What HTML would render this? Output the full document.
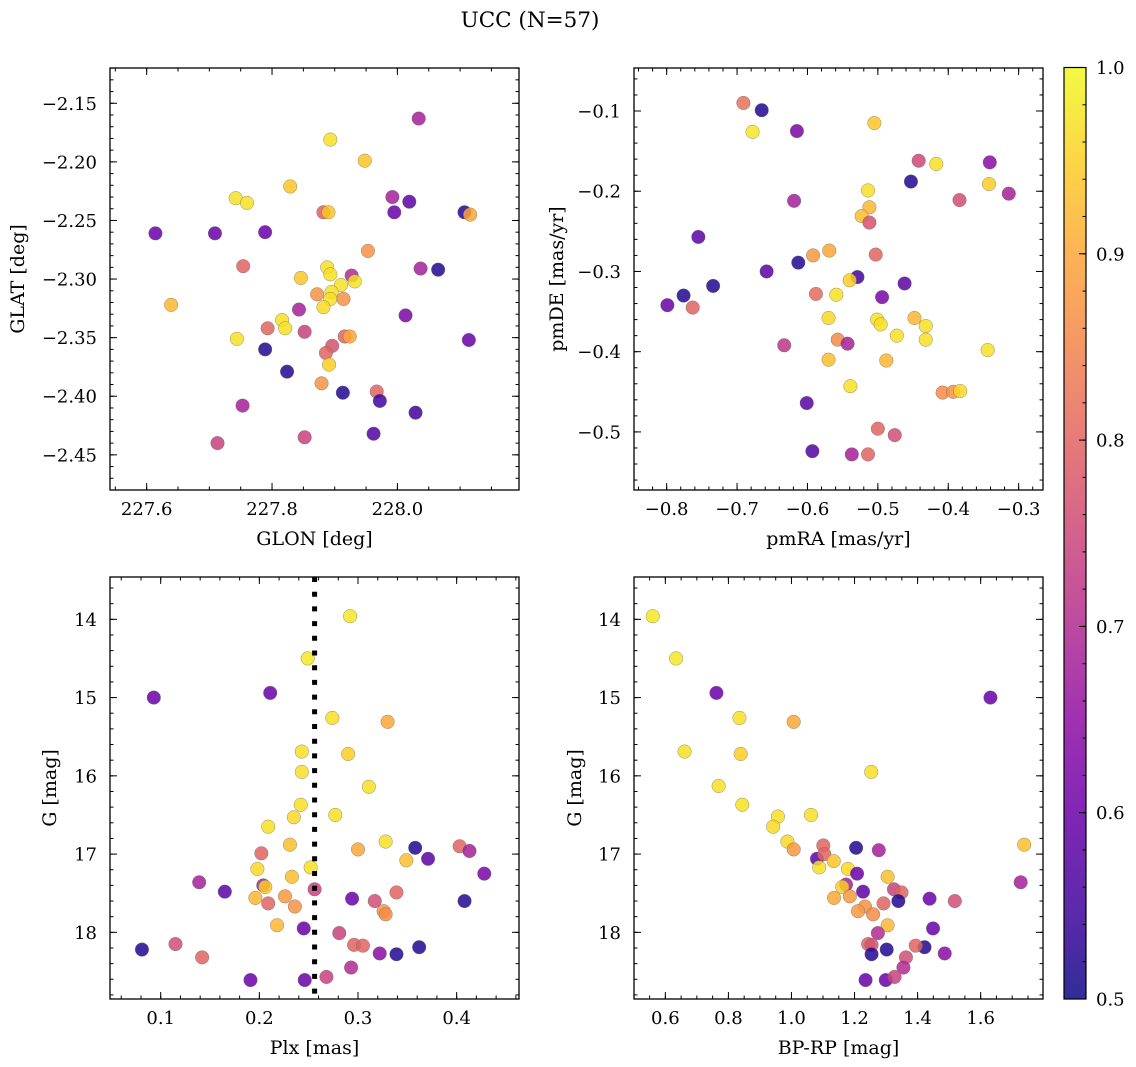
<!DOCTYPE html>
<html><head><meta charset="utf-8">
<style>
html,body{margin:0;padding:0;background:#fff;}
svg{display:block;font-family:"DejaVu Serif","Liberation Serif",serif;}
</style></head>
<body>
<svg id="fig" width="1136" height="1067" viewBox="0 0 1136 1067" xmlns="http://www.w3.org/2000/svg">
<defs>
<linearGradient id="plasmaGrad" x1="0" y1="1" x2="0" y2="0">
<stop offset="0" stop-color="#0d0887"/><stop offset="0.1" stop-color="#41049d"/><stop offset="0.2" stop-color="#6a00a8"/><stop offset="0.3" stop-color="#8f0da4"/><stop offset="0.4" stop-color="#b12a90"/><stop offset="0.5" stop-color="#cc4778"/><stop offset="0.6" stop-color="#e16462"/><stop offset="0.7" stop-color="#f2844b"/><stop offset="0.8" stop-color="#fca636"/><stop offset="0.9" stop-color="#fcce25"/><stop offset="1" stop-color="#f0f921"/>
</linearGradient>
</defs>
<text x="530" y="27" font-size="21.5" text-anchor="middle">UCC (N=57)</text>
</svg>
<script>
// ---- Panel 1: GLON / GLAT ----
const p1Glon=[228.034,227.893,227.948,227.829,227.742,227.760,227.992,228.019,227.995,227.882,227.890,228.107,228.116,227.614,227.709,227.789,227.953,227.754,227.888,227.893,227.927,228.037,228.065,227.846,227.932,227.910,227.872,227.895,227.893,227.914,227.882,227.639,227.843,228.013,227.816,227.821,227.793,227.852,227.744,227.916,227.924,228.114,227.896,227.886,227.789,227.891,227.824,227.879,227.913,227.967,227.972,227.753,228.029,227.962,227.713,227.852];
const p1Glat=[-2.163,-2.181,-2.199,-2.221,-2.231,-2.235,-2.230,-2.234,-2.243,-2.243,-2.243,-2.243,-2.245,-2.261,-2.261,-2.260,-2.276,-2.289,-2.290,-2.296,-2.297,-2.291,-2.292,-2.299,-2.302,-2.305,-2.313,-2.311,-2.317,-2.317,-2.324,-2.322,-2.326,-2.331,-2.335,-2.342,-2.342,-2.345,-2.351,-2.349,-2.349,-2.352,-2.357,-2.363,-2.360,-2.373,-2.379,-2.389,-2.397,-2.396,-2.404,-2.408,-2.414,-2.432,-2.440,-2.435];
const p1Prob=[0.68,0.97,0.94,0.94,0.97,0.97,0.68,0.58,0.6,0.79,0.94,0.52,0.9,0.6,0.6,0.6,0.87,0.8,0.97,0.97,0.7,0.68,0.52,0.94,0.97,0.97,0.87,0.97,0.97,0.87,0.96,0.92,0.68,0.62,0.97,0.97,0.8,0.74,0.97,0.8,0.9,0.6,0.77,0.8,0.52,0.95,0.52,0.87,0.52,0.8,0.55,0.68,0.55,0.57,0.74,0.74];
const p1XTicks=[227.6,227.8,228.0];
const p1YTicks=[-2.15,-2.20,-2.25,-2.30,-2.35,-2.40,-2.45];

// ---- Panel 2: pmRA / pmDE ----
const p2PmRA=[-0.691,-0.665,-0.678,-0.615,-0.505,-0.442,-0.417,-0.341,-0.453,-0.342,-0.314,-0.384,-0.514,-0.619,-0.512,-0.523,-0.512,-0.755,-0.569,-0.592,-0.503,-0.613,-0.658,-0.529,-0.540,-0.734,-0.462,-0.776,-0.559,-0.588,-0.494,-0.799,-0.763,-0.570,-0.501,-0.496,-0.448,-0.432,-0.473,-0.432,-0.557,-0.543,-0.633,-0.570,-0.488,-0.344,-0.539,-0.408,-0.393,-0.383,-0.601,-0.500,-0.476,-0.593,-0.537,-0.514];
const p2PmDE=[-0.090,-0.099,-0.126,-0.125,-0.115,-0.162,-0.166,-0.164,-0.188,-0.191,-0.203,-0.211,-0.199,-0.212,-0.220,-0.231,-0.239,-0.257,-0.274,-0.280,-0.279,-0.289,-0.300,-0.307,-0.311,-0.318,-0.315,-0.330,-0.329,-0.328,-0.332,-0.342,-0.345,-0.358,-0.360,-0.366,-0.358,-0.368,-0.380,-0.385,-0.385,-0.390,-0.392,-0.410,-0.411,-0.398,-0.443,-0.451,-0.450,-0.449,-0.464,-0.496,-0.504,-0.524,-0.528,-0.528];
const p2Prob=[0.82,0.52,0.98,0.62,0.94,0.75,0.97,0.64,0.52,0.95,0.68,0.76,0.97,0.68,0.92,0.93,0.77,0.58,0.9,0.88,0.8,0.52,0.58,0.55,0.95,0.52,0.58,0.52,0.97,0.81,0.62,0.6,0.8,0.96,0.97,0.97,0.92,0.97,0.97,0.97,0.86,0.68,0.72,0.93,0.92,0.97,0.97,0.86,0.87,0.96,0.58,0.8,0.76,0.57,0.68,0.8];
const p2XTicks=[-0.8,-0.7,-0.6,-0.5,-0.4,-0.3];
const p2YTicks=[-0.1,-0.2,-0.3,-0.4,-0.5];

// ---- Panel 3: Plx / G ----
const p3Plx=[0.292,0.249,0.093,0.211,0.274,0.330,0.243,0.290,0.243,0.311,0.242,0.277,0.235,0.209,0.231,0.328,0.300,0.202,0.358,0.371,0.403,0.413,0.349,0.198,0.252,0.428,0.233,0.139,0.204,0.206,0.165,0.256,0.339,0.196,0.226,0.209,0.294,0.317,0.236,0.326,0.328,0.408,0.218,0.245,0.281,0.296,0.305,0.322,0.339,0.362,0.081,0.115,0.142,0.293,0.191,0.246,0.268];
const p3G=[13.96,14.50,15.00,14.94,15.26,15.31,15.69,15.72,15.95,16.14,16.37,16.50,16.53,16.65,16.88,16.84,16.94,16.99,16.92,17.06,16.90,16.96,17.08,17.19,17.17,17.25,17.29,17.36,17.40,17.42,17.48,17.45,17.49,17.56,17.54,17.63,17.57,17.60,17.67,17.73,17.77,17.60,17.91,17.95,18.01,18.16,18.17,18.27,18.28,18.19,18.22,18.15,18.32,18.45,18.61,18.61,18.57];
const p3Prob=[0.98,0.98,0.6,0.6,0.97,0.9,0.97,0.95,0.97,0.97,0.97,0.97,0.96,0.97,0.93,0.97,0.9,0.8,0.52,0.58,0.8,0.68,0.93,0.96,0.97,0.62,0.93,0.68,0.68,0.95,0.58,0.74,0.8,0.92,0.88,0.8,0.6,0.76,0.87,0.88,0.86,0.52,0.92,0.6,0.74,0.8,0.8,0.64,0.52,0.52,0.52,0.76,0.8,0.7,0.6,0.6,0.74];
const p3PlxCut=0.256;
const p3XTicks=[0.1,0.2,0.3,0.4];
const gTicks=[14,15,16,17,18];

// ---- Panel 4: BP-RP / G ----
const p4BpRp=[0.560,0.634,0.762,1.631,0.835,1.007,0.661,0.839,1.253,0.769,0.844,1.062,0.957,0.942,0.987,1.738,1.007,1.101,1.205,1.277,1.081,1.104,1.134,1.088,1.179,1.208,1.305,1.727,1.173,1.161,1.227,1.325,1.349,1.135,1.185,1.292,1.438,1.518,1.233,1.211,1.259,1.339,1.305,1.449,1.274,1.243,1.254,1.486,1.254,1.422,1.302,1.394,1.363,1.355,1.235,1.299,1.327];
const p4G=[13.96,14.50,14.94,15.00,15.26,15.31,15.69,15.72,15.95,16.13,16.37,16.50,16.52,16.65,16.84,16.88,16.94,16.89,16.92,16.95,17.06,17.00,17.09,17.17,17.19,17.25,17.29,17.36,17.39,17.42,17.48,17.45,17.49,17.56,17.54,17.63,17.57,17.60,17.67,17.73,17.77,17.60,17.91,17.95,18.01,18.15,18.16,18.27,18.28,18.19,18.22,18.17,18.32,18.45,18.61,18.61,18.57];
const p4Prob=[0.98,0.98,0.6,0.6,0.97,0.9,0.97,0.95,0.97,0.97,0.97,0.97,0.97,0.96,0.96,0.93,0.88,0.8,0.52,0.68,0.58,0.8,0.94,0.97,0.96,0.6,0.93,0.68,0.68,0.95,0.58,0.74,0.8,0.9,0.88,0.8,0.6,0.76,0.87,0.88,0.86,0.52,0.92,0.6,0.7,0.8,0.77,0.64,0.52,0.52,0.52,0.8,0.76,0.7,0.6,0.6,0.74];
const p4XTicks=[0.6,0.8,1.0,1.2,1.4,1.6];

const cbTicks=[0.5,0.6,0.7,0.8,0.9,1.0];

const NS="http://www.w3.org/2000/svg";
const svg=document.getElementById('fig');
const plasma=[[13,8,135],[65,4,157],[106,0,168],[143,13,164],[177,42,144],[204,71,120],[225,100,98],[242,132,75],[252,166,54],[252,206,37],[240,249,33]];
function cmap(p){let t=(p-0.5)/0.5;t=Math.max(0,Math.min(1,t));const f=t*10;const i=Math.min(9,Math.floor(f));const r=f-i;const a=plasma[i],b=plasma[i+1];
return 'rgb('+[0,1,2].map(k=>Math.round(a[k]+(b[k]-a[k])*r)).join(',')+')';}
function mk(tag,attrs,parent){const e=document.createElementNS(NS,tag);for(const k in attrs)e.setAttribute(k,attrs[k]);(parent||svg).appendChild(e);return e;}
function fmt(v,d){const s=Math.abs(v).toFixed(d);return (v<0?'\u2212':'')+s;}

const TICKFS=18, LABFS=19;
const panels=[
 {id:'glon-glat',left:110,top:68,w:409,h:422,xmin:227.5415,xmax:228.194,ymin:-2.480,ymax:-2.1199,inv:false,
  xs:p1Glon,ys:p1Glat,cs:p1Prob,xt:p1XTicks,yt:p1YTicks,xd:1,yd:2,xMinor:0.05,yMinor:0.01,xl:'GLON [deg]',yl:'GLAT [deg]',ylx:24},
 {id:'pm',left:634,top:68,w:409,h:422,xmin:-0.8464,xmax:-0.2654,ymin:-0.5724,ymax:-0.0464,inv:false,
  xs:p2PmRA,ys:p2PmDE,cs:p2Prob,xt:p2XTicks,yt:p2YTicks,xd:1,yd:1,xMinor:0.02,yMinor:0.02,xl:'pmRA [mas/yr]',yl:'pmDE [mas/yr]',ylx:563},
 {id:'plx-g',left:110,top:577,w:409,h:422,xmin:0.0486,xmax:0.4632,ymin:13.459,ymax:18.852,inv:true,
  xs:p3Plx,ys:p3G,cs:p3Prob,xt:p3XTicks,yt:gTicks,xd:1,yd:0,xMinor:0.02,yMinor:0.2,xl:'Plx [mas]',yl:'G [mag]',ylx:56},
 {id:'cmd',left:634,top:577,w:409,h:422,xmin:0.5006,xmax:1.7977,ymin:13.459,ymax:18.852,inv:true,
  xs:p4BpRp,ys:p4G,cs:p4Prob,xt:p4XTicks,yt:gTicks,xd:1,yd:0,xMinor:0.05,yMinor:0.2,xl:'BP-RP [mag]',yl:'G [mag]',ylx:581}
];

panels.forEach((P,pi)=>{
 const g=mk('g',{});
 
 
 const sx=v=>P.left+(v-P.xmin)/(P.xmax-P.xmin)*P.w;
 const sy=P.inv? (v=>P.top+(v-P.ymin)/(P.ymax-P.ymin)*P.h) : (v=>P.top+(P.ymax-v)/(P.ymax-P.ymin)*P.h);
 const pg=mk('g',{},g);
 
 
 for(let i=0;i<P.xs.length;i++){
  const c=mk('circle',{cx:sx(P.xs[i]).toFixed(2),cy:sy(P.ys[i]).toFixed(2),r:6.8,fill:cmap(P.cs[i]),'fill-opacity':0.85,stroke:'#666','stroke-width':0.5,'stroke-opacity':0.7},pg);
  
  
 }
 if(pi===2){
  const l=mk('line',{x1:sx(p3PlxCut),x2:sx(p3PlxCut),y1:P.top,y2:P.top+P.h,stroke:'#000','stroke-width':5,'stroke-dasharray':'5 9.7'},g);
  
  
 }
 const fr=mk('rect',{x:P.left,y:P.top,width:P.w,height:P.h,fill:'none',stroke:'#000','stroke-width':1.3},g);
 
 
 const tg=mk('g',{stroke:'#000','stroke-width':1},g);
 
 
 const B=P.top+P.h, R=P.left+P.w;
 const x0=Math.ceil(P.xmin/P.xMinor-1e-6), x1=Math.floor(P.xmax/P.xMinor+1e-6);
 for(let k=x0;k<=x1;k++){const X=sx(k*P.xMinor);mk('line',{x1:X,x2:X,y1:B,y2:B-3.5},tg);mk('line',{x1:X,x2:X,y1:P.top,y2:P.top+3.5},tg);}
 const y0=Math.ceil(P.ymin/P.yMinor-1e-6), y1=Math.floor(P.ymax/P.yMinor+1e-6);
 for(let k=y0;k<=y1;k++){const Y=sy(k*P.yMinor);mk('line',{x1:P.left,x2:P.left+3.5,y1:Y,y2:Y},tg);mk('line',{x1:R,x2:R-3.5,y1:Y,y2:Y},tg);}
 P.xt.forEach(v=>{const X=sx(v);mk('line',{x1:X,x2:X,y1:B,y2:B-7},tg);mk('line',{x1:X,x2:X,y1:P.top,y2:P.top+7},tg);
  const t=mk('text',{x:X,y:B+25,'font-size':TICKFS,'text-anchor':'middle'},g);t.textContent=fmt(v,P.xd);
  
  });
 P.yt.forEach(v=>{const Y=sy(v);mk('line',{x1:P.left,x2:P.left+7,y1:Y,y2:Y},tg);mk('line',{x1:R,x2:R-7,y1:Y,y2:Y},tg);
  const t=mk('text',{x:P.left-13,y:Y+6.5,'font-size':TICKFS,'text-anchor':'end'},g);t.textContent=fmt(v,P.yd);
  
  });
 const xl=mk('text',{x:P.left+P.w/2,y:B+55,'font-size':LABFS,'text-anchor':'middle'},g);xl.textContent=P.xl;
 
 
 const cy=P.top+P.h/2;
 const yl=mk('text',{x:P.ylx,y:cy,'font-size':LABFS,'text-anchor':'middle',transform:'rotate(-90 '+P.ylx+' '+cy+')'},g);yl.textContent=P.yl;
 
 
});

const cbL=1064,cbT=67.5,cbW=22,cbH=931.5;
const cg=mk('g',{});


const cr=mk('rect',{x:cbL,y:cbT,width:cbW,height:cbH,fill:'url(#plasmaGrad)','fill-opacity':0.85},cg);


mk('rect',{x:cbL,y:cbT,width:cbW,height:cbH,fill:'none',stroke:'#000','stroke-width':1.2},cg);
const cby=v=>cbT+(1.0-v)/0.5*cbH;
for(let k=25;k<=50;k++){const Y=cby(k*0.02);mk('line',{x1:cbL+cbW,x2:cbL+cbW-3.5,y1:Y,y2:Y,stroke:'#000','stroke-width':1},cg);}
cbTicks.forEach(v=>{const Y=cby(v);mk('line',{x1:cbL+cbW,x2:cbL+cbW-7,y1:Y,y2:Y,stroke:'#000','stroke-width':1},cg);
 const t=mk('text',{x:cbL+cbW+10,y:Y+6.5,'font-size':TICKFS},cg);t.textContent=v.toFixed(1);
 
 });
</script>
</body></html>
